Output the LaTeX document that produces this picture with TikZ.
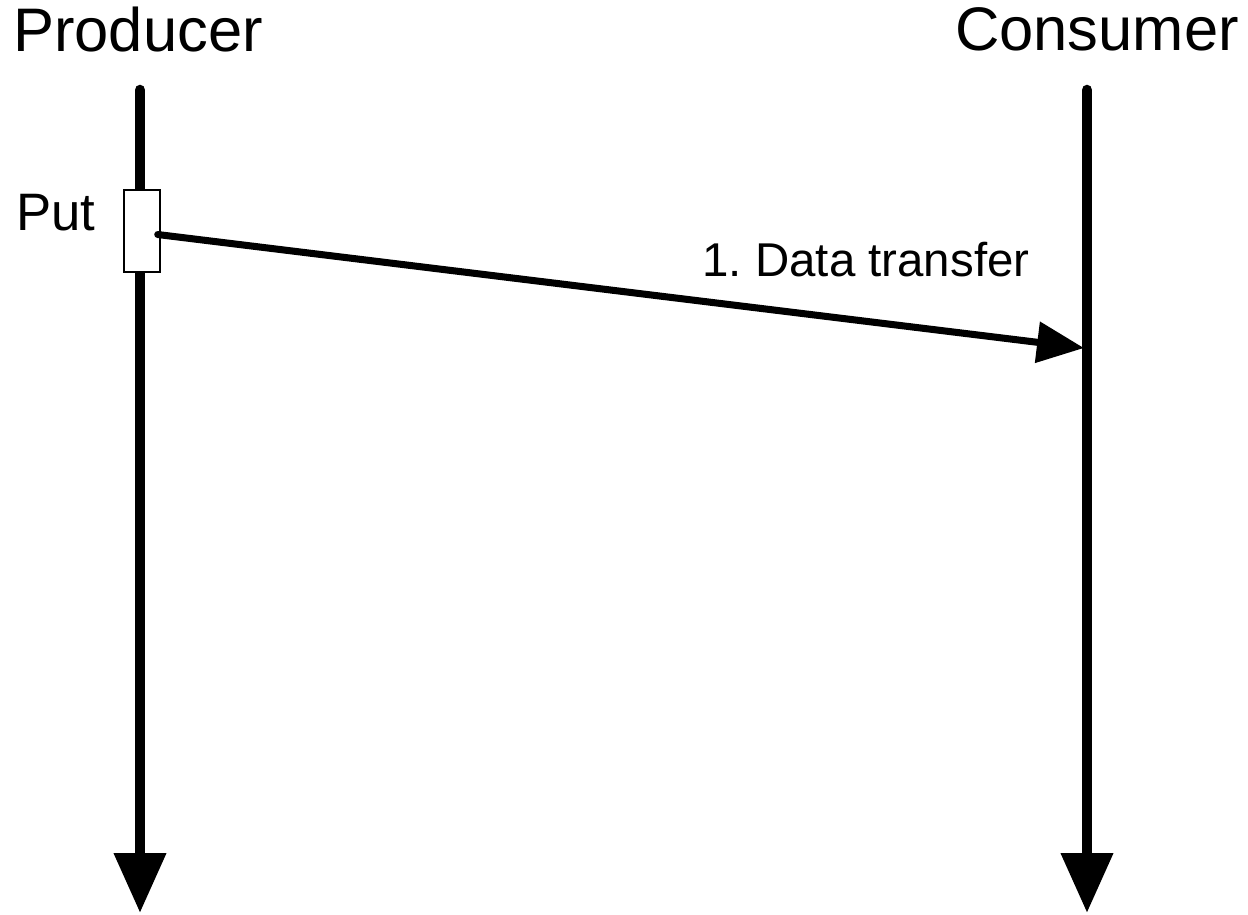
\documentclass[tikz,border=0pt]{standalone}
\usepackage{fontspec}
\setmainfont{Liberation Sans}
\usetikzlibrary{positioning,arrows.meta}
\frenchspacing

\begin{document}
\begin{tikzpicture}[
  x=0.02cm,y=-0.02cm,
  role/.style={anchor=base,font=\fontsize{35}{40}\selectfont},
  lbl/.style={anchor=base,font=\fontsize{27}{30}\selectfont},
  life/.style={line width=6pt,line cap=round,-{Triangle[length=12mm,width=10mm]}},
  act/.style={draw,fill=white,line width=1.4pt,minimum width=7.2mm,minimum height=16.4mm,inner sep=0pt},
  msg/.style={line width=4pt,line cap=round,-{Triangle[length=9.4mm,width=8mm]}},
]
\useasboundingbox (0,0) rectangle (1248,914);

% participants
\node[role] (prod) at (138,51) {Producer};
\node[role] (cons) at (1097,50) {Consumer};

% lifelines
\coordinate (prodtop) at (140,90);
\coordinate (prodbot) at (140,913);
\coordinate (constop) at (1087,90);
\coordinate (consbot) at (1087,913);
\draw[life] (prodtop) -- (prodbot);
\draw[life] (constop) -- (consbot);

% put activation
\node[act] (put) at (142,231) {};
\node[lbl,font=\fontsize{30}{34}\selectfont] (putlbl) at (56,230) {Put};

% message
\coordinate (recv) at (1084,348);
\draw[msg] ([xshift=-2pt,yshift=-2pt]put.east) -- (recv);
\node[lbl] (xfer) at (866,276) {1. Data transfer};
\end{tikzpicture}
\end{document}
